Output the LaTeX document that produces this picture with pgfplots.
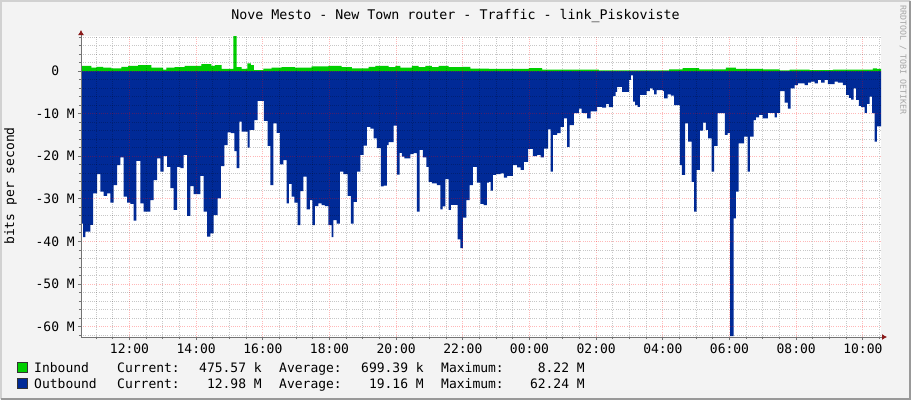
\documentclass[border=0pt]{standalone}
\usepackage{fontspec}
\setmainfont{DejaVu Sans Mono}
\usepackage{pgfplots}
\pgfplotsset{compat=1.18}
\usetikzlibrary{arrows.meta}
\definecolor{inclr}{HTML}{00CF00}
\definecolor{outclr}{HTML}{002A97}
\definecolor{bgclr}{HTML}{F3F3F3}
\definecolor{arrowred}{HTML}{8B1A1A}

\pgfplotstableread{
t v
10.545 1.2
10.855 0.8
11.005 1.0
11.205 0.8
11.455 0.6
11.755 1.0
11.955 1.2
12.255 1.4
12.655 0.8
13.005 0.3
13.105 0.8
13.355 0.9
13.655 1.2
14.155 1.6
14.455 1.2
14.564 1.4
14.764 0.5
15.114 8.22
15.214 0.9
15.364 0.5
15.534 1.8
15.644 1.4
15.734 0.2
16.014 0.55
16.264 0.8
16.564 0.9
16.964 0.8
17.464 1.1
17.964 1.2
18.364 0.9
18.673 0.6
19.173 1.0
19.373 1.2
19.773 0.9
19.973 1.2
20.123 0.8
20.473 1.2
20.673 0.9
20.873 1.2
21.073 0.9
21.273 1.2
21.573 0.9
21.973 1.0
22.223 0.55
22.782 0.5
23.982 0.7
24.382 0.3
26.082 0.15
28.192 0.4
28.592 0.7
29.092 0.4
29.892 0.8
30.192 0.5
31.001 0.4
31.501 0.15
31.801 0.3
32.401 0.2
33.101 0.3
34.301 0.6
34.420 0.48
34.545 0.48
}\inbound

\pgfplotstableread{
t v
10.545 -35.8
10.605 -39.0
10.675 -37.7
10.825 -36.1
10.905 -28.7
11.025 -24.2
11.125 -28.3
11.225 -29.3
11.325 -28.7
11.425 -30.9
11.525 -26.8
11.625 -22.1
11.725 -20.3
11.825 -29.5
11.925 -30.9
12.025 -31.2
12.125 -35.1
12.205 -21.1
12.325 -31.1
12.425 -33.0
12.625 -30.3
12.725 -25.6
12.825 -20.5
12.925 -23.6
13.025 -20.0
13.125 -22.5
13.225 -27.5
13.325 -32.6
13.425 -22.5
13.525 -22.8
13.625 -19.7
13.725 -34.0
13.825 -27.0
13.925 -28.9
14.125 -24.6
14.225 -33.0
14.325 -38.9
14.425 -38.1
14.525 -33.8
14.644 -29.9
14.744 -22.3
14.844 -17.4
14.944 -14.4
15.044 -14.6
15.144 -18.8
15.214 -22.8
15.294 -11.9
15.364 -14.2
15.544 -18.0
15.604 -13.8
15.744 -11.5
15.844 -7.0
16.034 -11.7
16.144 -17.6
16.224 -26.8
16.314 -12.3
16.414 -14.5
16.514 -21.9
16.614 -20.9
16.714 -31.1
16.784 -26.5
16.864 -29.5
16.944 -30.9
17.044 -36.2
17.124 -28.2
17.214 -24.8
17.314 -32.5
17.414 -30.3
17.484 -36.2
17.564 -31.7
17.664 -31.1
17.764 -31.5
17.864 -31.7
17.964 -36.2
18.064 -39.0
18.114 -35.0
18.214 -35.8
18.314 -23.6
18.414 -24.2
18.544 -29.3
18.644 -35.8
18.723 -30.7
18.823 -23.6
18.923 -19.7
19.023 -17.5
19.123 -13.1
19.223 -13.5
19.323 -15.8
19.423 -18.1
19.543 -27.1
19.623 -26.9
19.723 -17.4
19.773 -16.7
19.923 -12.8
20.023 -24.3
20.103 -19.2
20.173 -20.1
20.243 -20.5
20.423 -19.5
20.523 -19.3
20.623 -33.0
20.703 -18.5
20.803 -20.3
20.903 -22.5
20.973 -26.0
21.073 -26.4
21.223 -26.8
21.323 -32.5
21.393 -31.8
21.473 -25.4
21.573 -32.6
21.643 -31.4
21.843 -39.5
21.923 -41.6
22.003 -34.4
22.103 -30.3
22.203 -26.8
22.303 -22.5
22.423 -26.2
22.523 -31.2
22.623 -31.5
22.723 -26.2
22.782 -26.0
22.832 -28.1
22.902 -24.4
23.002 -24.2
23.132 -24.0
23.232 -25.0
23.332 -24.6
23.502 -22.1
23.632 -22.6
23.732 -23.2
23.832 -21.3
23.962 -18.3
24.102 -20.0
24.232 -19.7
24.332 -20.3
24.432 -18.2
24.562 -13.7
24.632 -23.6
24.702 -15.0
24.832 -14.6
24.932 -13.1
25.032 -11.1
25.132 -17.8
25.202 -12.7
25.332 -9.9
25.482 -8.8
25.562 -9.8
25.632 -9.9
25.732 -11.1
25.832 -9.5
26.032 -8.4
26.182 -8.6
26.302 -7.7
26.382 -8.5
26.502 -5.9
26.582 -4.9
26.632 -3.7
26.782 -4.9
26.992 -2.1
27.042 -1.0
27.112 -7.2
27.172 -8.0
27.242 -8.4
27.312 -5.6
27.512 -4.7
27.612 -4.1
27.692 -4.5
27.742 -5.5
27.812 -4.5
28.002 -4.7
28.042 -6.4
28.142 -5.5
28.242 -5.8
28.342 -8.0
28.512 -22.1
28.572 -24.4
28.672 -12.3
28.762 -16.6
28.862 -26.0
28.942 -33.0
29.012 -23.2
29.112 -14.0
29.212 -12.1
29.292 -13.8
29.362 -15.8
29.462 -23.6
29.542 -17.6
29.642 -9.9
29.862 -15.0
29.942 -14.6
30.022 -62.24
30.122 -34.6
30.192 -28.3
30.272 -17.0
30.442 -15.4
30.542 -23.6
30.612 -15.4
30.722 -11.5
30.792 -10.9
30.892 -10.3
30.992 -11.1
31.081 -11.1
31.151 -9.8
31.351 -10.9
31.421 -9.8
31.521 -4.7
31.651 -7.4
31.751 -8.8
31.831 -4.1
31.951 -3.3
32.051 -2.9
32.251 -3.3
32.351 -2.7
32.451 -2.5
32.551 -2.9
32.651 -2.1
32.751 -2.7
32.851 -2.1
32.951 -3.1
33.151 -2.5
33.251 -2.7
33.401 -3.3
33.501 -5.6
33.581 -6.3
33.651 -6.7
33.721 -4.1
33.801 -6.8
33.881 -8.2
33.951 -8.5
34.051 -9.8
34.121 -7.7
34.201 -6.0
34.281 -9.9
34.351 -16.6
34.421 -13.0
34.545 -13.0
}\outbound

\begin{document}
\begin{tikzpicture}[x=1pt,y=1pt,font=\fontsize{13}{15}\selectfont]
\useasboundingbox (0,0) rectangle (911,400);
\fill[bgclr] (0,0) rectangle (911,400);
\draw[color=black!18, line width=2pt] (1,1) -- (1,399) -- (910,399);
\draw[color=black!40, line width=2pt] (1,1) -- (910,1) -- (910,399);

\begin{axis}[
  at={(81pt,63pt)}, anchor=south west,
  width=800pt, height=301pt, scale only axis,
  xmin=10.545, xmax=34.545, ymin=-62.44, ymax=8.22,
  axis background/.style={fill=white},
  axis on top,
  axis x line=bottom, axis y line=left,
  x axis line style={draw=black!55, line width=1pt, shorten >=-6pt, -{Latex[length=5pt,width=6pt,color=arrowred]}},
  y axis line style={draw=black!55, line width=1pt, shorten >=-6pt, -{Latex[length=5pt,width=6pt,color=arrowred]}},
  xtick={12,14,16,18,20,22,24,26,28,30,32,34},
  xticklabels={12:00,14:00,16:00,18:00,20:00,22:00,00:00,02:00,04:00,06:00,08:00,10:00},
  minor xtick={11,11.5,12.5,13,13.5,14.5,15,15.5,16.5,17,17.5,18.5,19,19.5,20.5,21,21.5,22.5,23,23.5,24.5,25,25.5,26.5,27,27.5,28.5,29,29.5,30.5,31,31.5,32.5,33,33.5,34.5},
  ytick={-60,-50,-40,-30,-20,-10,0},
  yticklabels={{-60 M},{-50 M},{-40 M},{-30 M},{-20 M},{-10 M},{0\phantom{ M}}},
  minor ytick={-62,-58,-56,-54,-52,-48,-46,-44,-42,-38,-36,-34,-32,-28,-26,-24,-22,-18,-16,-14,-12,-8,-6,-4,-2,2,4,6,8},
  grid=both,
  major grid style={draw=red, opacity=0.28, line width=0.8pt, dash pattern=on 1pt off 1.2pt},
  minor grid style={draw=black, opacity=0.22, line width=0.8pt, dash pattern=on 1pt off 1.2pt},
  tick align=outside,
  major tick length=3pt, minor tick length=2pt,
  every tick/.style={draw=black!55, line width=0.8pt},
  xticklabel style={font=\fontsize{13}{15}\selectfont, inner sep=0pt, yshift=-4pt},
  yticklabel style={font=\fontsize{13}{15}\selectfont, inner sep=0pt, anchor=east, xshift=-3pt},
  clip=true,
]
\addplot[const plot mark left, fill=outclr, draw=none] table[x=t, y=v] {\outbound} \closedcycle;
\addplot[const plot mark left, fill=inclr, draw=none] table[x=t, y=v] {\inbound} \closedcycle;
\end{axis}

\node[font=\fontsize{13.3}{15}\selectfont, anchor=base] at (455.5,380) {Nove Mesto - New Town router - Traffic - link\_Piskoviste};
\node[rotate=90] at (10.5,214) {bits per second};
\node[rotate=-90, font=\fontsize{8.3}{10}\selectfont, text=black!35] at (903,340) {RRDTOOL / TOBI OETIKER};

% legend
\draw[fill=inclr, draw=black!80, line width=0.8pt] (17.5,27.5) rectangle (27.5,37.5);
\draw[fill=outclr, draw=black!80, line width=0.8pt] (17.5,11.5) rectangle (27.5,21.5);
\begin{scope}[every node/.style={inner sep=0pt}]
\node[anchor=base west] at (34,27.5) {Inbound};
\node[anchor=base west] at (117,27.5) {Current:};
\node[anchor=base east] at (262,27.5) {475.57 k};
\node[anchor=base west] at (279,27.5) {Average:};
\node[anchor=base east] at (424,27.5) {699.39 k};
\node[anchor=base west] at (441,27.5) {Maximum:};
\node[anchor=base east] at (585,27.5) {8.22 M};
\node[anchor=base west] at (34,11.5) {Outbound};
\node[anchor=base west] at (117,11.5) {Current:};
\node[anchor=base east] at (262,11.5) {12.98 M};
\node[anchor=base west] at (279,11.5) {Average:};
\node[anchor=base east] at (424,11.5) {19.16 M};
\node[anchor=base west] at (441,11.5) {Maximum:};
\node[anchor=base east] at (585,11.5) {62.24 M};
\end{scope}
\end{tikzpicture}
\end{document}
